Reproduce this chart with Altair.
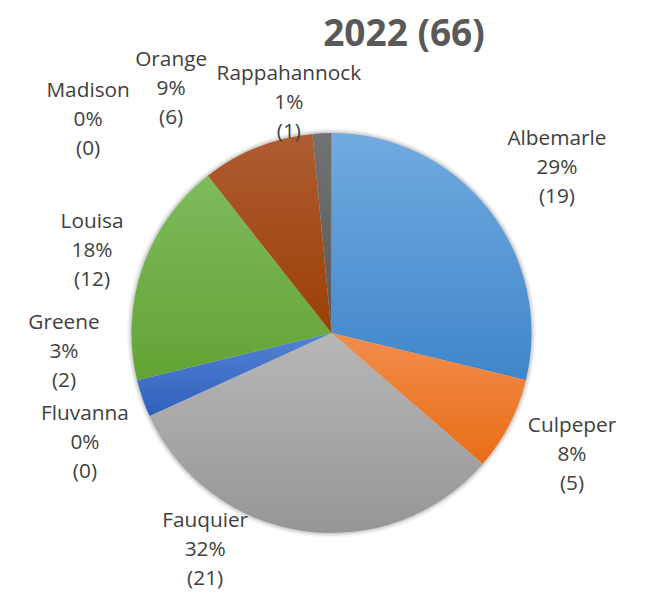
import math
import altair as alt
import pandas as pd

# ---- data ----
counties = ["Albemarle", "Culpeper", "Fauquier", "Fluvanna", "Greene",
            "Louisa", "Madison", "Orange", "Rappahannock"]
counts = [19, 5, 21, 0, 2, 12, 0, 6, 1]
pct_labels = [29, 8, 32, 0, 3, 18, 0, 9, 1]
title_text = "2022 (66)"

# ---- styles ----
grad_top = ["#71AAE0", "#F28D4E", "#B7B7B7", "#FFC000", "#5283D3",
            "#7EBB5C", "#255E91", "#AF5C33", "#727272"]
grad_bot = ["#3F86CA", "#E86D15", "#969696", "#FFC000", "#3060BD",
            "#62A334", "#255E91", "#9A4003", "#595959"]

# ---- label layout (angle clockwise from 12 o'clock, distance from centre) ----
label_angle = [53.8, 116.9, 210.2, 246.0, 265.9, 288.9, 311.2, 326.7, 349.5]
label_dist = [279.4, 269.7, 251.2, 269.9, 268.2, 253.1, 323.5, 292.1, 233.9]

total = sum(counts)
df = pd.DataFrame({
    "county": counties,
    "count": counts,
    "order": list(range(len(counties))),
    "label": [f"{c}\n{p}%\n({n})" for c, n, p in zip(counties, counts, pct_labels)],
    "lab_t": [a / 360.0 * total for a in label_angle],
    "lab_r": label_dist,
})

ts = alt.Scale(domain=[0, total], range=[0, 2 * math.pi])
R = 200
LH = 29


def base():
    return (alt.Chart(df)
            .transform_window(cum="sum(count)", sort=[alt.SortField("order")], frame=[None, 0])
            .transform_calculate(start="datum.cum - datum.count"))


layers = []
# soft shadow ring
for rr, op in [(204.5, 0.04), (203, 0.06), (201.5, 0.09)]:
    layers.append(
        base().mark_arc(radius=rr, fill="#000000", fillOpacity=op)
        .encode(theta=alt.Theta("start:Q", scale=ts), theta2="cum:Q")
    )

for i, c in enumerate(counties):
    grad = alt.LinearGradient(
        gradient="linear",
        stops=[alt.GradientStop(color=grad_top[i], offset=0),
               alt.GradientStop(color=grad_bot[i], offset=1)],
        x1=0, y1=0, x2=0, y2=1,
    )
    layers.append(
        base().transform_filter(alt.datum.county == c)
        .mark_arc(radius=R, fill=grad)
        .encode(theta=alt.Theta("start:Q", scale=ts), theta2="cum:Q")
    )

labels = (alt.Chart(df)
          .mark_text(lineBreak="\n", font="Open Sans", fontSize=20.8, lineHeight=LH,
                     color="#404040", align="center", baseline="middle", dy=-LH)
          .encode(theta=alt.Theta("lab_t:Q", scale=ts, stack=False),
                  radius=alt.Radius("lab_r:Q", scale=None),
                  text="label:N"))
layers.append(labels)

chart = (alt.layer(*layers)
         .properties(
             width=613, height=490,
             padding={"left": 17, "top": 80, "right": 0, "bottom": 12},
             autosize="none",
             title=alt.TitleParams(text=title_text, font="Open Sans", fontSize=37,
                                   fontWeight="bold", color="#595959", anchor="middle",
                                   dx=72.5, frame="group", baseline="alphabetic",
                                   offset=-34),
         )
         .configure_view(stroke=None))

chart.save("out.html", embed_options={"renderer": "svg", "actions": False})
